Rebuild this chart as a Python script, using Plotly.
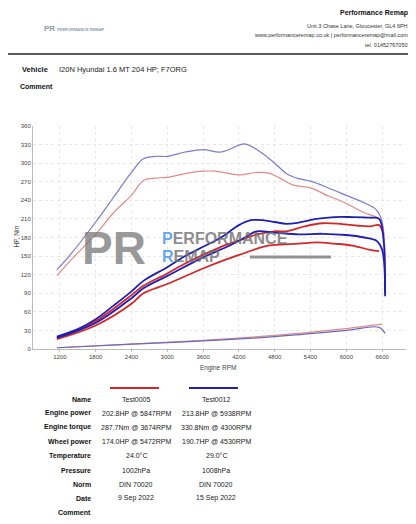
import plotly.graph_objects as go

# --- data read from the dyno sheet ---
rpm_tq_b = [1150, 1400, 1800, 2100, 2400, 2600, 2800, 3000, 3300, 3600, 3900, 4200, 4300, 4500, 4800, 5000, 5200, 5400, 5700, 6000, 6300, 6500, 6600, 6650]
tq_b = [128, 155, 205, 245, 285, 307, 311, 311, 318, 322, 318, 329, 331, 322, 300, 283, 275, 271, 260, 248, 236, 225, 205, 105]
rpm_tq_r = [1150, 1400, 1800, 2100, 2400, 2600, 2800, 3000, 3300, 3600, 3800, 4000, 4200, 4500, 4700, 4900, 5100, 5400, 5700, 6000, 6300, 6550, 6620, 6650]
tq_r = [118, 145, 185, 220, 248, 272, 276, 277, 283, 287, 287, 284, 281, 285, 284, 275, 265, 260, 247, 235, 220, 210, 190, 100]

rpm_ep_b = [1150, 1500, 1800, 2100, 2400, 2600, 3000, 3300, 3600, 3900, 4200, 4400, 4600, 4800, 5000, 5200, 5500, 5800, 6100, 6400, 6550, 6620, 6650]
ep_b = [20, 32, 48, 70, 93, 110, 132, 150, 165, 180, 200, 208, 208, 205, 202, 204, 210, 213, 213, 212, 210, 180, 85]
rpm_ep_r = [1150, 1500, 1800, 2100, 2400, 2600, 3000, 3300, 3600, 3900, 4200, 4500, 4800, 5000, 5300, 5600, 5900, 6200, 6400, 6550, 6620]
ep_r = [18, 30, 45, 65, 87, 102, 122, 138, 152, 165, 175, 185, 190, 190, 198, 203, 202, 199, 198, 200, 185]

rpm_wp_b = [1150, 1800, 2400, 2600, 3000, 3600, 4000, 4300, 4500, 4800, 5200, 5600, 6000, 6300, 6500, 6600, 6650]
wp_b = [18, 42, 82, 98, 118, 148, 165, 180, 190, 188, 185, 186, 184, 180, 175, 160, 90]
rpm_wp_r = [1150, 1800, 2400, 2600, 3000, 3600, 4000, 4300, 4600, 4800, 5200, 5500, 5800, 6100, 6400, 6550]
wp_r = [16, 38, 73, 90, 105, 130, 145, 155, 165, 168, 170, 172, 170, 167, 160, 158]

rpm_ls_r = [1150, 2400, 3600, 4800, 6000, 6600]
ls_r = [2, 8, 14, 22, 33, 40]
rpm_ls_b = [1150, 2400, 3600, 4800, 6000, 6550, 6650]
ls_b = [2, 8, 13, 20, 30, 35, 25]

row_labels = ["Name", "Engine power", "Engine torque", "Wheel power", "Temperature", "Pressure", "Norm", "Date", "Comment"]
col_red = ["Test0005", "202.8HP @ 5847RPM", "287.7Nm @ 3674RPM", "174.0HP @ 5472RPM", "24.0°C", "1002hPa", "DIN 70020", "9 Sep 2022", ""]
col_blue = ["Test0012", "213.8HP @ 5938RPM", "330.8Nm @ 4300RPM", "190.7HP @ 4530RPM", "29.0°C", "1008hPa", "DIN 70020", "15 Sep 2022", ""]

RED = "#d62728"
BLUE = "#1f1fb4"
OFF = 8  # page body margin
W, H = 416 - OFF, 524 - OFF
L, R, T, B = 33, 406, 126, 349  # plot area in window pixels
DX = 4  # text nudge to the right


def px(x):
    return (x - L) / (R - L)


def py(y):
    return (B - y) / (B - T)


fig = go.Figure()
lines = [
    (rpm_tq_b, tq_b, "#7b7bc8", 1.2), (rpm_tq_r, tq_r, "#e08a8a", 1.2),
    (rpm_ep_r, ep_r, RED, 1.8), (rpm_wp_r, wp_r, RED, 1.8),
    (rpm_ep_b, ep_b, BLUE, 1.8), (rpm_wp_b, wp_b, BLUE, 1.8),
    (rpm_ls_r, ls_r, "#e08a8a", 1.2), (rpm_ls_b, ls_b, "#6a6ab8", 1.2),
]
for x, y, c, w in lines:
    fig.add_trace(go.Scatter(x=x, y=y, mode="lines", line=dict(color=c, width=w, shape="spline"),
                             showlegend=False, hoverinfo="skip"))

ann = []
FONT = "Liberation Sans, Arial, sans-serif"


def txt(x, y, s, size=7, color="#222", anchor="center", bold=False):
    ann.append(dict(x=px(x + DX), y=py(y), xref="paper", yref="paper", text=f"<b>{s}</b>" if bold else s,
                    showarrow=False, xanchor=anchor, yanchor="middle",
                    font=dict(size=size, color=color, family=FONT)))


# header
txt(406, 13, "Performance Remap", 7, "#111", "right", True)
txt(406, 26, "Unit 3 Chase Lane, Gloucester, GL4 6PH", 5.5, "#333", "right")
txt(406, 35, "www.performanceremap.co.uk | performanceremap@mail.com", 5.5, "#333", "right")
txt(406, 45, "tel. 01452767050", 5.5, "#333", "right")
txt(38, 28, "PR <span style='font-size:4px'>PERFORMANCE REMAP</span>", 8, "#8a9ab0", "left", True)
txt(46, 70, "Vehicle", 7.5, "#111", "right", True)
txt(53, 70, "I20N Hyundai 1.6 MT 204 HP; F7ORG", 7.5, "#222", "left")
txt(14, 87, "Comment", 7, "#111", "left", True)

# watermark
txt(76, 248, "PR", 46, "rgba(120,120,120,0.75)", "left", True)
txt(156, 238, "<span style='color:#3a8ee6'>P</span>ERFORMANCE", 16, "rgba(110,110,110,0.8)", "left", True)
txt(156, 257, "<span style='color:#3a8ee6'>R</span>EMAP", 16, "rgba(110,110,110,0.8)", "left", True)

# axis titles
txt(214, 368, "Engine RPM", 6.5, "#444")
ann.append(dict(x=px(10), y=py(237), xref="paper", yref="paper", text="HP, Nm", textangle=-90,
                showarrow=False, font=dict(size=6.5, color="#444", family=FONT)))

# table
y0, dy = 399, 14.2
for i, lab in enumerate(row_labels):
    y = y0 + i * dy
    txt(89, y, lab, 7, "#111", "right", True)
    txt(132, y, col_red[i], 7, "#222")
    txt(212, y, col_blue[i], 7, "#222")

shapes = [
    dict(type="line", xref="paper", yref="paper", x0=px(4), x1=px(414), y0=py(54), y1=py(54), line=dict(color="#222", width=1.5)),
    dict(type="line", xref="paper", yref="paper", x0=px(110), x1=px(159), y0=py(388), y1=py(388), line=dict(color=RED, width=2)),
    dict(type="line", xref="paper", yref="paper", x0=px(189), x1=px(238), y0=py(388), y1=py(388), line=dict(color=BLUE, width=2)),
    dict(type="line", xref="paper", yref="paper", x0=px(250), x1=px(331), y0=py(257), y1=py(257), line=dict(color="rgba(120,120,120,0.8)", width=3)),
]

fig.update_layout(
    width=W, height=H, margin=dict(l=L - OFF, r=416 - R, t=T - OFF, b=524 - B),
    paper_bgcolor="white", plot_bgcolor="white",
    annotations=ann, shapes=shapes,
    xaxis=dict(range=[750, 7000], tickvals=[1200, 1800, 2400, 3000, 3600, 4200, 4800, 5400, 6000, 6600],
               showgrid=True, gridcolor="#e8e8e8", griddash="dot", tickfont=dict(size=6, color="#444", family=FONT),
               showline=True, linecolor="#bbb", ticks="outside", ticklen=2, tickcolor="#bbb", zeroline=False),
    yaxis=dict(range=[0, 360], dtick=30, showgrid=True, gridcolor="#e8e8e8", griddash="dot",
               tickfont=dict(size=6, color="#444", family=FONT), showline=True, linecolor="#bbb", zeroline=False),
)

fig.write_html("out.html")
